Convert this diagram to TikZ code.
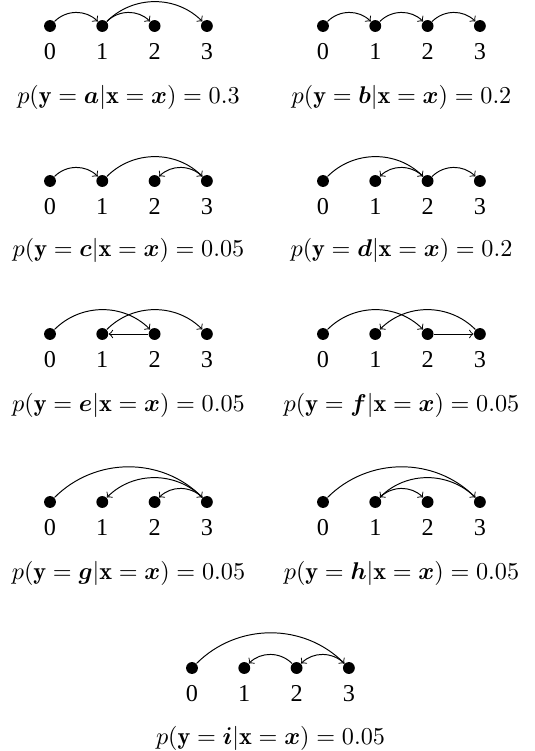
\documentclass[tikz,border=0pt]{standalone}
\usepackage{amsmath}
\usepackage{amssymb}
\usepackage{fontspec}
\newfontfamily\numfont{Liberation Serif}
\usetikzlibrary{arrows,positioning}

\tikzset{
  tok/.style={circle, fill=black, inner sep=0pt, minimum size=4.9pt},
  idx/.style={inner sep=1pt, font=\numfont},
  dep/.style={->, thin},
  prob/.style={inner sep=1pt}
}

% four tokens in a row: prefix, x, y
\newcommand{\chain}[3]{%
  \foreach \i in {0,...,3} {
    \node[tok] (#1\i) at ({#2+52.3*\i},#3) {};
    \node[idx, below=3.2pt of #1\i] (#1l\i) {\i};
  }%
}

\begin{document}
\begin{tikzpicture}[x=0.413pt, y=0.413pt]
    \useasboundingbox (0,0) rectangle (534,-751);

    % row 1
    \chain{a}{50}{-26}
    \draw[dep] (a0) to[bend left=45] (a1);
    \draw[dep] (a1) to[bend left=45] (a2);
    \draw[dep] (a1) to[bend left=45] (a3);
    \node[prob] (pa) at (128.5,-97) {$p(\mathbf{y}=\boldsymbol{a}|\mathbf{x}=\boldsymbol{x})=0.3$};

    \chain{b}{323}{-26}
    \draw[dep] (b0) to[bend left=45] (b1);
    \draw[dep] (b1) to[bend left=45] (b2);
    \draw[dep] (b2) to[bend left=45] (b3);
    \node[prob] (pb) at (401.5,-97) {$p(\mathbf{y}=\boldsymbol{b}|\mathbf{x}=\boldsymbol{x})=0.2$};

    % row 2
    \chain{c}{50}{-181}
    \draw[dep] (c0) to[bend left=45] (c1);
    \draw[dep] (c1) to[bend left=45] (c3);
    \draw[dep] (c3) to[bend right=45] (c2);
    \node[prob] (pc) at (128.5,-250) {$p(\mathbf{y}=\boldsymbol{c}|\mathbf{x}=\boldsymbol{x})=0.05$};

    \chain{d}{323}{-181}
    \draw[dep] (d0) to[bend left=45] (d2);
    \draw[dep] (d2) to[bend right=45] (d1);
    \draw[dep] (d2) to[bend left=45] (d3);
    \node[prob] (pd) at (401.5,-250) {$p(\mathbf{y}=\boldsymbol{d}|\mathbf{x}=\boldsymbol{x})=0.2$};

    % row 3
    \chain{e}{50}{-334}
    \draw[dep] (e0) to[bend left=45] (e2);
    \draw[dep] (e1) to[bend left=45] (e3);
    \draw[dep] (e2) -- (e1);
    \node[prob] (pe) at (128.5,-405) {$p(\mathbf{y}=\boldsymbol{e}|\mathbf{x}=\boldsymbol{x})=0.05$};

    \chain{f}{323}{-334}
    \draw[dep] (f0) to[bend left=45] (f2);
    \draw[dep] (f3) to[bend right=45] (f1);
    \draw[dep] (f2) -- (f3);
    \node[prob] (pf) at (401.5,-405) {$p(\mathbf{y}=\boldsymbol{f}|\mathbf{x}=\boldsymbol{x})=0.05$};

    % row 4
    \chain{g}{50}{-502}
    \draw[dep] (g0) to[bend left=45] (g3);
    \draw[dep] (g3) to[bend right=45] (g1);
    \draw[dep] (g3) to[bend right=45] (g2);
    \node[prob] (pg) at (128.5,-573) {$p(\mathbf{y}=\boldsymbol{g}|\mathbf{x}=\boldsymbol{x})=0.05$};

    \chain{h}{323}{-502}
    \draw[dep] (h0) to[bend left=45] (h3);
    \draw[dep] (h3) to[bend right=45] (h1);
    \draw[dep] (h1) to[bend left=45] (h2);
    \node[prob] (ph) at (401.5,-573) {$p(\mathbf{y}=\boldsymbol{h}|\mathbf{x}=\boldsymbol{x})=0.05$};

    % row 5
    \chain{i}{192}{-668}
    \draw[dep] (i0) to[bend left=45] (i3);
    \draw[dep] (i3) to[bend right=45] (i2);
    \draw[dep] (i2) to[bend right=45] (i1);
    \node[prob] (pi) at (270.5,-738) {$p(\mathbf{y}=\boldsymbol{i}|\mathbf{x}=\boldsymbol{x})=0.05$};
\end{tikzpicture}
\end{document}
